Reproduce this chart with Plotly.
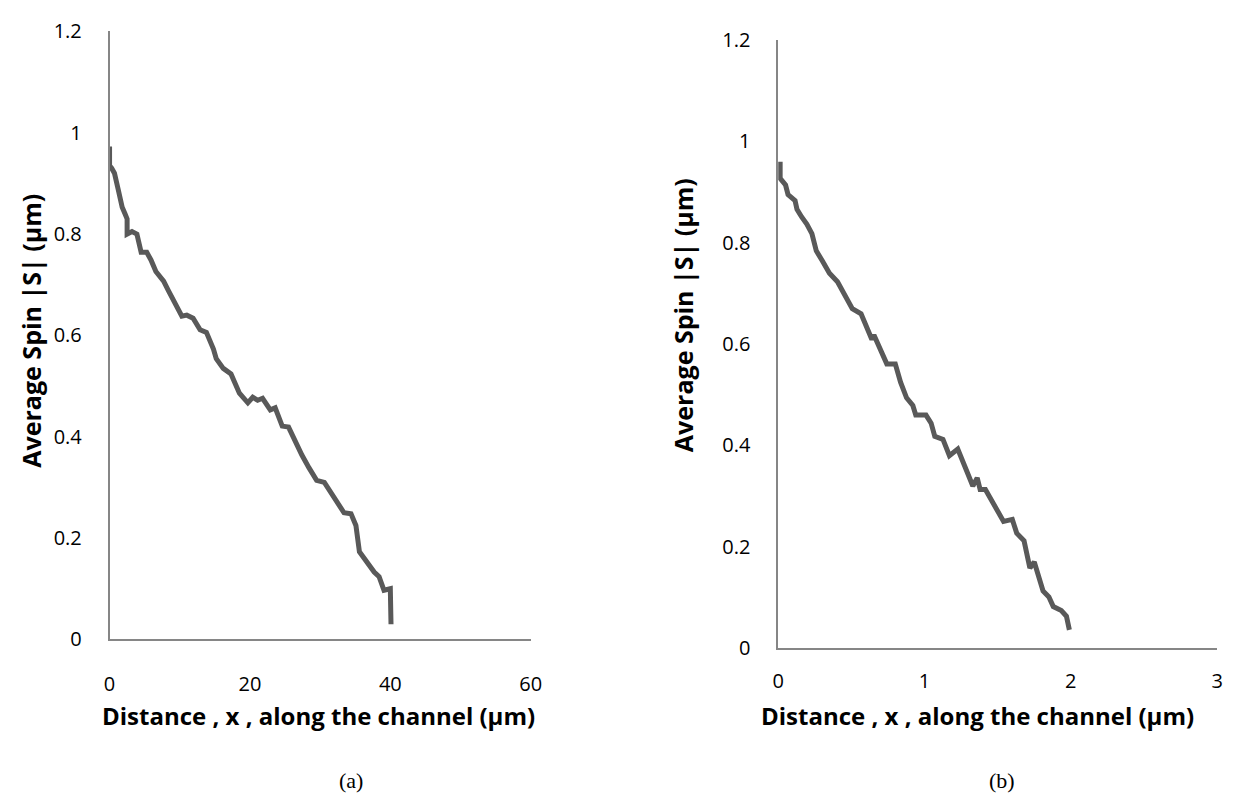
import plotly.graph_objects as go

# ---- data (a) ----
xa = [0.0, 0.0, 0.3, 0.7, 1.2, 1.8, 2.2, 2.5, 2.5, 3.2, 3.9, 4.5, 5.3, 5.9, 6.6, 7.7, 8.4, 9.4,
      10.3, 11.0, 11.9, 12.9, 13.8, 14.8, 15.2, 16.2, 17.3, 18.5, 19.7, 20.4, 21.1, 21.8, 22.9,
      23.6, 24.6, 25.5, 26.9, 27.4, 28.4, 29.5, 30.6, 31.9, 33.4, 34.4, 35.1, 35.6, 36.5, 37.7,
      38.4, 39.1, 40.0, 40.1]
ya = [0.973, 0.935, 0.93, 0.92, 0.89, 0.853, 0.84, 0.83, 0.80, 0.805, 0.80, 0.764, 0.764, 0.749,
      0.726, 0.707, 0.688, 0.663, 0.638, 0.64, 0.634, 0.611, 0.606, 0.573, 0.554, 0.535, 0.524,
      0.486, 0.467, 0.478, 0.472, 0.476, 0.453, 0.457, 0.421, 0.419, 0.377, 0.364, 0.339, 0.314,
      0.310, 0.282, 0.250, 0.248, 0.225, 0.173, 0.154, 0.133, 0.124, 0.097, 0.10, 0.03]

# ---- data (b) ----
xb = [0.013, 0.013, 0.05, 0.067, 0.115, 0.128, 0.16, 0.195, 0.23, 0.26, 0.30, 0.35, 0.405, 0.465,
      0.506, 0.566, 0.60, 0.64, 0.654, 0.70, 0.742, 0.80, 0.836, 0.877, 0.92, 0.94, 1.01, 1.045,
      1.07, 1.126, 1.17, 1.227, 1.27, 1.315, 1.33, 1.36, 1.38, 1.416, 1.46, 1.51, 1.54, 1.60,
      1.63, 1.68, 1.70, 1.72, 1.75, 1.78, 1.81, 1.85, 1.88, 1.935, 1.97, 1.99]
yb = [0.96, 0.927, 0.914, 0.895, 0.883, 0.866, 0.851, 0.837, 0.818, 0.784, 0.765, 0.74, 0.723,
      0.692, 0.67, 0.66, 0.635, 0.609, 0.618, 0.589, 0.561, 0.561, 0.525, 0.494, 0.479, 0.46,
      0.46, 0.444, 0.418, 0.412, 0.38, 0.393, 0.36, 0.332, 0.32, 0.336, 0.313, 0.313, 0.292,
      0.269, 0.25, 0.254, 0.227, 0.212, 0.183, 0.158, 0.17, 0.145, 0.113, 0.101, 0.082, 0.074,
      0.063, 0.036]

ytickvals = [0, 0.2, 0.4, 0.6, 0.8, 1, 1.2]
yticktext = ["0", "0.2", "0.4", "0.6", "0.8", "1", "1.2"]
xtitle = "Distance , x , along the channel (µm)"
ytitle = "Average Spin |S| (µm)"
LINE = "#595959"
AX = "#868686"
FONT = "Open Sans, sans-serif"

fig = go.Figure()
fig.add_trace(go.Scatter(x=xa, y=ya, mode="lines", line=dict(color=LINE, width=5),
                         xaxis="x", yaxis="y", showlegend=False))
fig.add_trace(go.Scatter(x=xb, y=yb, mode="lines", line=dict(color=LINE, width=5),
                         xaxis="x2", yaxis="y2", showlegend=False))

common = dict(showgrid=False, zeroline=False, showline=True, linecolor=AX, linewidth=1.5,
              ticks="", tickfont=dict(family=FONT, size=20, color="black"))

fig.update_layout(
    width=1238, height=810, margin=dict(l=0, r=0, t=0, b=0),
    paper_bgcolor="white", plot_bgcolor="white",
    xaxis=dict(domain=[105/1238, 532/1238], range=[0, 60], tickvals=[0, 20, 40, 60],
               anchor="y", ticklabelstandoff=26, **common),
    yaxis=dict(domain=[(810-647)/810, (810-18)/810], range=[0, 1.2],
               tickvals=ytickvals, ticktext=yticktext,
               anchor="x", ticklabelstandoff=22, **common),
    xaxis2=dict(domain=[783/1238, 1228/1238], range=[0, 3], tickvals=[0, 1, 2, 3],
                anchor="y2", ticklabelstandoff=14, **common),
    yaxis2=dict(domain=[(810-656)/810, (810-27)/810], range=[0, 1.2],
                tickvals=ytickvals, ticktext=yticktext,
                anchor="x2", ticklabelstandoff=22, **common),
)

tfont = dict(family=FONT, size=24, color="black")
yfont = dict(family=FONT, size=25, color="black")
ann = [
    dict(x=317/1238, y=1-726/810, text="<b>%s</b>" % xtitle, font=tfont),
    dict(x=985/1238, y=1-726/810, text="<b>%s</b>" % xtitle, font=tfont),
    dict(x=25/1238, y=1-328/810, text="<b>%s</b>" % ytitle, font=yfont, textangle=-90),
    dict(x=686/1238, y=1-312/810, text="<b>%s</b>" % ytitle, font=yfont, textangle=-90),
    dict(x=350/1238, y=1-793/810, text="(a)", font=dict(family="Liberation Serif", size=22, color="black")),
    dict(x=1010/1238, y=1-793/810, text="(b)", font=dict(family="Liberation Serif", size=22, color="black")),
]
for a in ann:
    a.update(xref="paper", yref="paper", showarrow=False, xanchor="center", yanchor="middle")
fig.update_layout(annotations=ann)

fig.write_html("out.html")
